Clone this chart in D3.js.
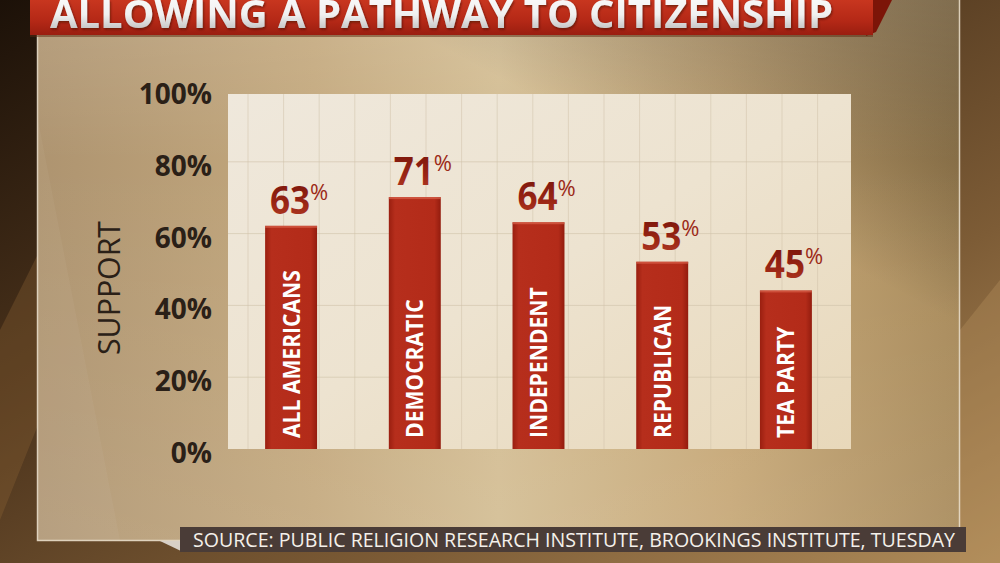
<!DOCTYPE html>
<html><head><meta charset="utf-8">
<script src="https://cdn.jsdelivr.net/npm/d3@7"></script>
<style>html,body{margin:0;padding:0;background:#2a1a0e;overflow:hidden}</style>
</head><body>
<svg id="c" width="1000" height="563"></svg>
<script>
const categories = ["ALL AMERICANS","DEMOCRATIC","INDEPENDENT","REPUBLICAN","TEA PARTY"];
const support = [63,71,64,53,45];
const yTicks = [0,20,40,60,80,100];
const titleText = "ALLOWING A PATHWAY TO CITIZENSHIP";
const yAxisTitle = "SUPPORT";
const sourceText = "SOURCE: PUBLIC RELIGION RESEARCH INSTITUTE, BROOKINGS INSTITUTE, TUESDAY";

const data = categories.map((c,i)=>({cat:c, v:support[i]}));
const svg = d3.select("#c");
const defs = svg.append("defs");

function lin(id, x1,y1,x2,y2, stops){
  const g = defs.append("linearGradient").attr("id",id)
    .attr("x1",x1).attr("y1",y1).attr("x2",x2).attr("y2",y2);
  stops.forEach(s=>g.append("stop").attr("offset",s[0]).attr("stop-color",s[1]).attr("stop-opacity", s[2]===undefined?1:s[2]));
}
lin("bgG",0,0,1,1,[[0,"#1c1108"],[0.35,"#4a321b"],[0.7,"#7d5c36"],[1,"#b08c5a"]]);
lin("panelG",0,0,1,1,[[0,"#efe8dc"],[0.5,"#ede3d0"],[1,"#e8d8ba"]]);
lin("barG",0,0,1,0,[[0,"#9a1f10"],[0.12,"#b62e1c"],[0.88,"#b32b19"],[1,"#931c0e"]]);
lin("bannerG",0,0,0,1,[[0,"#c8361f"],[0.6,"#b42816"],[1,"#9a1e10"]]);
lin("titleG",0,0,0,1,[[0,"#ffffff"],[0.55,"#f0f0f0"],[1,"#a9a9a9"]]);
lin("valG",0,0,0,1,[[0,"#6e1007"],[0.6,"#9a2514"],[1,"#b8432a"]]);
lin("boardH",0,0,1,0,[[0,"#ae9470"],[0.3,"#c4a97e"],[0.5,"#d3bd93"],[0.75,"#c6a776"],[1,"#a88a5a"]]);
lin("boardTR",0.5,0.55,1,0,[[0,"#000",0],[0.4,"#000",0],[1,"#2a1e0c",0.45]]);
lin("boardTop",0,0,0,1,[[0,"#fff",0.12],[0.3,"#fff",0],[1,"#fff",0.08]]);
const sh = defs.append("filter").attr("id","shadow").attr("x","-10%").attr("y","-10%").attr("width","130%").attr("height","140%");
sh.append("feDropShadow").attr("dx",1).attr("dy",1.5).attr("stdDeviation",1.2).attr("flood-color","#3a0a04").attr("flood-opacity",0.6);

// Background
svg.append("rect").attr("width",1000).attr("height",563).attr("fill","url(#bgG)");
svg.append("polygon").attr("points","0,330 40,250 40,420 0,520").attr("fill","#8a6034").attr("opacity",0.35);
svg.append("polygon").attr("points","960,330 1000,280 1000,563 960,563").attr("fill","#b8935e").attr("opacity",0.35);

// Board
const board = {x:37.5, y:-2, w:922, h:542.5};
["boardH","boardTR","boardTop"].forEach(g=>{
  svg.append("rect").attr("x",board.x).attr("y",board.y).attr("width",board.w).attr("height",board.h)
    .attr("fill",`url(#${g})`);
});
svg.append("polygon").attr("points","38,120 38,540 120,540").attr("fill","#fff").attr("opacity",0.04);
svg.append("rect").attr("x",board.x).attr("y",board.y).attr("width",board.w).attr("height",board.h)
  .attr("fill","none").attr("stroke","#ece2cf").attr("stroke-opacity",0.85).attr("stroke-width",1.5);

// Banner
svg.append("polygon").attr("points","866,0 892,0 886,12 876,32 866,36").attr("fill","#7c1508");
svg.append("rect").attr("x",30).attr("y",0).attr("width",843).attr("height",35)
  .attr("fill","url(#bannerG)");
svg.append("rect").attr("x",30).attr("y",35).attr("width",843).attr("height",2).attr("fill","#5a2a10").attr("opacity",0.5);
svg.append("text").attr("x",50).attr("y",27.5)
  .attr("font-family","Open Sans").attr("font-weight",700).attr("font-size",39)
  .attr("textLength",783).attr("lengthAdjust","spacingAndGlyphs")
  .attr("fill","url(#titleG)").attr("filter","url(#shadow)").text(titleText);

// Plot panel
const panel = {x0:228, x1:851, y0:94, y1:449};
svg.append("rect").attr("x",panel.x0).attr("y",panel.y0)
  .attr("width",panel.x1-panel.x0).attr("height",panel.y1-panel.y0)
  .attr("fill","url(#panelG)");

const x = d3.scaleBand().domain(categories).range([228,849]).paddingInner(0.58).paddingOuter(0.3);
const y = d3.scaleLinear().domain([0,100]).range([452,93]);

// grid
const gridX = d3.range(17).map(i=>248+i*35.6);
svg.append("g").selectAll("line").data(gridX).join("line")
  .attr("x1",d=>d).attr("x2",d=>d).attr("y1",panel.y0).attr("y2",panel.y1)
  .attr("stroke","#cfc1a8").attr("stroke-opacity",0.5).attr("stroke-width",1);
svg.append("g").selectAll("line").data(yTicks.filter(t=>t>0&&t<100)).join("line")
  .attr("x1",panel.x0).attr("x2",panel.x1).attr("y1",d=>y(d)-3).attr("y2",d=>y(d)-3)
  .attr("stroke","#cfc1a8").attr("stroke-opacity",0.6).attr("stroke-width",1);

// y tick labels
svg.append("g").selectAll("text").data(yTicks).join("text")
  .attr("x",212).attr("y",d=>y(d)+11)
  .attr("text-anchor","end").attr("font-family","Open Sans").attr("font-weight",700)
  .attr("font-size",28).attr("fill","#2a2017").text(d=>d+"%");

// axis title
svg.append("text").attr("transform","translate(120,288) rotate(-90)")
  .attr("text-anchor","middle").attr("font-family","Open Sans").attr("font-size",31)
  .attr("textLength",134).attr("lengthAdjust","spacingAndGlyphs")
  .attr("fill","#2a2017").text(yAxisTitle);

// bars
const bars = svg.append("g");
bars.selectAll("rect.bar").data(data).join("rect").attr("class","bar")
  .attr("x",d=>x(d.cat)).attr("width",x.bandwidth())
  .attr("y",d=>y(d.v)).attr("height",d=>panel.y1-y(d.v))
  .attr("fill","url(#barG)");
bars.selectAll("rect.hl").data(data).join("rect").attr("class","hl")
  .attr("x",d=>x(d.cat)).attr("width",x.bandwidth())
  .attr("y",d=>y(d.v)).attr("height",2)
  .attr("fill","#d9614a").attr("opacity",0.7);

// bar labels (rotated)
bars.selectAll("text.cat").data(data).join("text").attr("class","cat")
  .attr("transform",d=>`translate(${x(d.cat)+x.bandwidth()/2+8.5},438) rotate(-90) scale(0.88,1)`)
  .attr("font-family","Open Sans").attr("font-weight",700).attr("font-size",24)
  .attr("fill","#ffffff").text(d=>d.cat);

// value labels
const vals = svg.append("g");
vals.selectAll("text.num").data(data).join("text").attr("class","num")
  .attr("transform",d=>`translate(${x(d.cat)+x.bandwidth()/2-1},${y(d.v)-12}) scale(0.9,1)`)
  .attr("text-anchor","middle").attr("font-family","Open Sans").attr("font-weight",700)
  .attr("font-size",39).attr("fill","url(#valG)").text(d=>d.v);
vals.selectAll("text.pct").data(data).join("text").attr("class","pct")
  .attr("transform",d=>`translate(${x(d.cat)+x.bandwidth()/2+19},${y(d.v)-26})`)
  .attr("font-family","Open Sans").attr("font-weight",400)
  .attr("font-size",22).attr("fill","#9c2a18").text("%");

// source
svg.append("polygon").attr("points","160,541 181,541 181,551").attr("fill","#d8d0c6");
svg.append("rect").attr("x",180).attr("y",527).attr("width",786).attr("height",25).attr("fill","#4a3c37");
svg.append("text").attr("x",193).attr("y",546.5)
  .attr("font-family","Open Sans").attr("font-size",20)
  .attr("textLength",762).attr("lengthAdjust","spacingAndGlyphs")
  .attr("fill","#f4f0ea").text(sourceText);
</script>
</body></html>
